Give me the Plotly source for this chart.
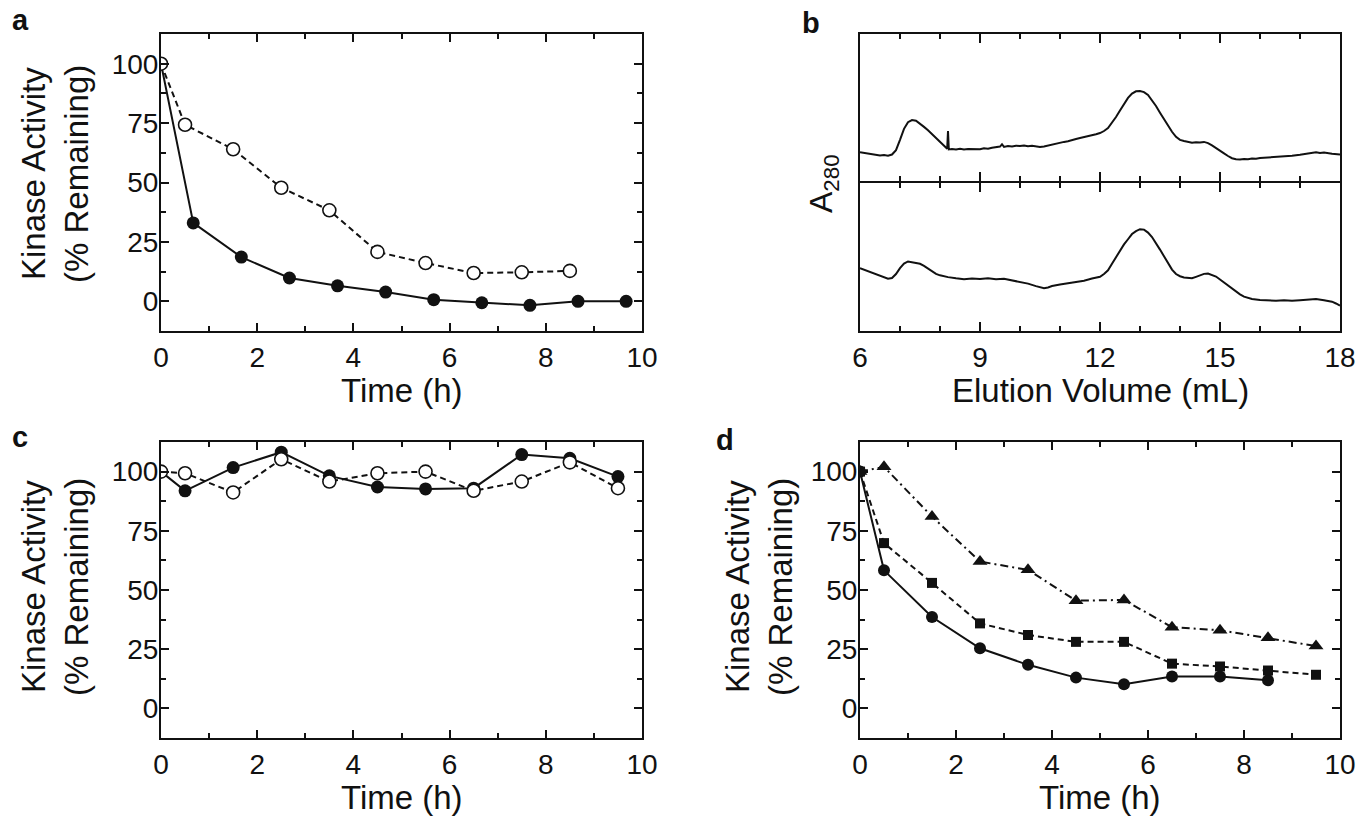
import plotly.graph_objects as go

W, H = 1358, 816
FONT = "Liberation Sans, Arial, Helvetica, sans-serif"
BLACK = "#111111"

# ---------------- data ----------------
# Panel a
a_time_filled = [0, 0.67, 1.67, 2.67, 3.67, 4.67, 5.67, 6.67, 7.67, 8.67, 9.67]
a_act_filled = [100, 33.0, 18.6, 9.8, 6.5, 3.9, 0.7, -0.6, -1.7, 0.0, 0.0]
a_time_open = [0, 0.5, 1.5, 2.5, 3.5, 4.5, 5.5, 6.5, 7.5, 8.5]
a_act_open = [100, 74.3, 64.0, 47.8, 38.3, 20.8, 16.1, 11.9, 12.2, 12.8]

# Panel b (A280 traces, arbitrary units)
b_vol_top = [6.0, 6.1, 6.2, 6.3, 6.4, 6.5, 6.6, 6.7, 6.8, 6.9, 7.0, 7.1, 7.2, 7.3, 7.4,
             7.5, 7.6, 7.7, 7.8, 7.9, 8.0, 8.1, 8.18, 8.2, 8.22, 8.3, 8.4, 8.5, 8.6,
             8.7, 8.8, 8.9, 9.0, 9.1, 9.2, 9.3, 9.4, 9.5, 9.55, 9.6, 9.7, 9.8, 9.9,
             10.0, 10.1, 10.2, 10.3, 10.4, 10.5, 10.6, 10.7, 10.8, 10.9, 11.0, 11.1,
             11.2, 11.3, 11.4, 11.5, 11.6, 11.7, 11.8, 11.9, 12.0, 12.1, 12.2, 12.3,
             12.4, 12.5, 12.6, 12.7, 12.8, 12.9, 13.0, 13.1, 13.2, 13.3, 13.4, 13.5,
             13.6, 13.7, 13.8, 13.9, 14.0, 14.1, 14.2, 14.3, 14.4, 14.5, 14.6, 14.7,
             14.8, 14.9, 15.0, 15.1, 15.2, 15.3, 15.4, 15.5, 15.6, 15.7, 15.8, 15.9,
             16.0, 16.2, 16.4, 16.6, 16.8, 17.0, 17.2, 17.4, 17.5, 17.6, 17.8, 18.0]
b_abs_top = [19.5, 19.0, 18.6, 18.1, 17.8, 17.3, 17.6, 17.2, 18.0, 21.0, 28.0, 35.5, 40.0,
             41.5, 41.0, 39.2, 36.8, 34.5, 32.0, 29.5, 27.0, 24.0, 22.0, 34.0, 21.5,
             21.8, 21.5, 21.9, 21.4, 21.7, 21.6, 21.8, 21.6, 22.2, 22.0, 22.6, 22.8,
             23.4, 25.0, 23.2, 23.8, 23.5, 24.0, 23.8, 24.2, 23.6, 23.9, 23.4, 23.2,
             23.5, 24.2, 24.8, 25.4, 26.0, 26.6, 27.0, 28.0, 28.6, 29.2, 29.8, 30.6,
             30.8, 31.8, 32.6, 34.0, 36.0, 39.5, 43.5, 48.0, 52.5, 56.5, 59.5, 61.0,
             61.2, 60.5, 58.5, 55.0, 51.0, 46.5, 42.0, 38.0, 33.5, 30.0, 28.0, 27.2,
             26.5, 26.0, 26.4, 26.2, 26.6, 25.8, 24.2, 22.2, 20.5, 18.8, 17.0, 15.5,
             14.8, 14.6, 15.0, 14.8, 15.3, 15.1, 15.6, 15.9, 16.3, 16.8, 17.2, 17.8,
             18.5, 19.6, 19.0, 19.4, 18.6, 18.0]
b_vol_bottom = [6.0, 6.1, 6.2, 6.3, 6.4, 6.5, 6.6, 6.7, 6.8, 6.9, 7.0, 7.1, 7.2, 7.3,
                7.4, 7.5, 7.6, 7.7, 7.8, 7.9, 8.0, 8.1, 8.2, 8.4, 8.6, 8.8, 9.0, 9.2,
                9.4, 9.6, 9.8, 10.0, 10.2, 10.4, 10.6, 10.7, 10.8, 11.0, 11.2, 11.4,
                11.6, 11.8, 12.0, 12.1, 12.2, 12.3, 12.4, 12.5, 12.6, 12.7, 12.8, 12.9,
                13.0, 13.1, 13.2, 13.3, 13.4, 13.5, 13.6, 13.7, 13.8, 13.9, 14.0, 14.1,
                14.2, 14.3, 14.4, 14.5, 14.6, 14.7, 14.8, 14.9, 15.0, 15.1, 15.2, 15.3,
                15.4, 15.5, 15.6, 15.7, 15.8, 16.0, 16.2, 16.4, 16.6, 16.8, 17.0, 17.2,
                17.4, 17.6, 17.8, 17.9, 18.0]
b_abs_bottom = [42.5, 41.5, 40.5, 39.2, 38.5, 37.0, 36.0, 35.3, 35.8, 38.5, 42.5, 45.5,
                47.0, 46.5, 46.2, 45.4, 44.0, 42.0, 40.2, 38.6, 37.6, 36.8, 36.4, 35.6,
                35.0, 35.4, 35.2, 35.6, 35.0, 35.3, 34.2, 33.3, 32.0, 30.3, 28.9, 29.4,
                30.4, 31.4, 32.2, 33.0, 34.0, 35.5, 36.6, 38.5, 41.0, 45.5, 50.0, 54.5,
                58.5, 62.0, 65.5, 67.5, 68.8, 68.5, 66.5, 63.5, 59.5, 55.0, 50.5, 46.0,
                41.5, 38.5, 37.0, 36.2, 35.8, 35.6, 36.6, 37.8, 38.6, 38.8, 38.0, 36.8,
                34.8, 32.8, 30.5, 28.3, 26.6, 24.8, 23.2, 22.2, 21.6, 21.0, 20.6, 20.4,
                20.7, 20.4, 20.8, 21.2, 21.6, 20.8, 19.8, 18.6, 17.2]

# Panel c
c_time = [0, 0.5, 1.5, 2.5, 3.5, 4.5, 5.5, 6.5, 7.5, 8.5, 9.5]
c_act_filled = [100, 91.9, 101.7, 108.2, 98.2, 93.5, 92.7, 93.0, 107.2, 105.6, 97.9]
c_act_open = [100, 99.3, 91.2, 105.2, 95.8, 99.3, 100.0, 91.9, 95.8, 103.9, 93.0]

# Panel d
d_time_circle = [0, 0.5, 1.5, 2.5, 3.5, 4.5, 5.5, 6.5, 7.5, 8.5]
d_act_circle = [100, 58.3, 38.6, 25.4, 18.4, 13.0, 10.2, 13.5, 13.5, 11.9]
d_time = [0, 0.5, 1.5, 2.5, 3.5, 4.5, 5.5, 6.5, 7.5, 8.5, 9.5]
d_act_square = [100, 69.8, 53.0, 35.9, 31.0, 28.1, 28.1, 18.9, 17.7, 16.0, 14.2]
d_act_triangle = [100, 102.0, 81.0, 62.0, 58.5, 45.5, 45.8, 34.3, 33.0, 29.8, 26.3]

x_ticks_time = [0, 2, 4, 6, 8, 10]
y_ticks_activity = [0, 25, 50, 75, 100]
x_ticks_volume = [6, 9, 12, 15, 18]


# ---------------- helpers ----------------
def px_x(x):
    return x / W


def px_y(y):
    return 1 - y / H


def axis(domain, rng, tickvals, minor_dtick, labels=True, ticklen=8, minorlen=5,
         anchor=None, ticks="inside", line=True, standoff=0):
    d = dict(
        domain=domain, range=rng, showgrid=False, zeroline=False, automargin=False,
        showline=line, linecolor=BLACK, linewidth=2, mirror="ticks" if ticks else True,
        ticks=ticks, ticklen=ticklen, tickwidth=2, tickcolor=BLACK,
        tickmode="array", tickvals=tickvals, showticklabels=labels,
        tickfont=dict(family=FONT, size=28, color=BLACK),
        ticklabelstandoff=standoff,
        fixedrange=True,
    )
    if ticks:
        d["minor"] = dict(ticks="inside", ticklen=minorlen, tickwidth=2,
                          tickcolor=BLACK, dtick=minor_dtick, tick0=0, showgrid=False)
    if anchor:
        d["anchor"] = anchor
    return d


fig = go.Figure()

filled = dict(symbol="circle", size=13, color=BLACK)
open_m = dict(symbol="circle", size=13, color="white", line=dict(color=BLACK, width=1.6))

# Panel a
fig.add_trace(go.Scatter(x=a_time_filled, y=a_act_filled, mode="lines+markers",
                         line=dict(color=BLACK, width=2), marker=filled,
                         xaxis="x", yaxis="y"))
fig.add_trace(go.Scatter(x=a_time_open, y=a_act_open, mode="lines+markers",
                         line=dict(color=BLACK, width=2, dash="6px,4px"), marker=open_m,
                         xaxis="x", yaxis="y"))

# Panel b
fig.add_trace(go.Scatter(x=b_vol_top, y=b_abs_top, mode="lines",
                         line=dict(color=BLACK, width=2), xaxis="x2", yaxis="y2"))
fig.add_trace(go.Scatter(x=b_vol_bottom, y=b_abs_bottom, mode="lines",
                         line=dict(color=BLACK, width=2), xaxis="x3", yaxis="y3"))

# Panel c
fig.add_trace(go.Scatter(x=c_time, y=c_act_filled, mode="lines+markers",
                         line=dict(color=BLACK, width=2), marker=filled,
                         xaxis="x4", yaxis="y4"))
fig.add_trace(go.Scatter(x=c_time, y=c_act_open, mode="lines+markers",
                         line=dict(color=BLACK, width=2, dash="6px,4px"), marker=open_m,
                         xaxis="x4", yaxis="y4"))

# Panel d
fig.add_trace(go.Scatter(x=d_time_circle, y=d_act_circle, mode="lines+markers",
                         line=dict(color=BLACK, width=2),
                         marker=dict(symbol="circle", size=12, color=BLACK),
                         xaxis="x5", yaxis="y5"))
fig.add_trace(go.Scatter(x=d_time, y=d_act_triangle, mode="lines+markers",
                         line=dict(color=BLACK, width=2, dash="8px,4px,2px,4px"),
                         marker=dict(symbol="triangle-up", size=13, color=BLACK),
                         xaxis="x5", yaxis="y5"))
fig.add_trace(go.Scatter(x=d_time, y=d_act_square, mode="lines+markers",
                         line=dict(color=BLACK, width=2, dash="6px,4px"),
                         marker=dict(symbol="square", size=10, color=BLACK),
                         xaxis="x5", yaxis="y5"))

# domains (pixel positions converted to paper)
ax_a = [px_x(161), px_x(642)]
ax_b = [px_x(860), px_x(1340)]
row1 = [px_y(331), px_y(34)]
b_top = [px_y(181), px_y(34)]
b_bot = [px_y(331), px_y(183)]
row2 = [px_y(738), px_y(442)]

yr = [-12.5, 112.5]
xr = [0, 10]

fig.update_layout(
    width=W, height=H, margin=dict(l=0, r=0, t=0, b=0, autoexpand=False),
    paper_bgcolor="white", plot_bgcolor="white", showlegend=False,
    font=dict(family=FONT, color=BLACK),
    xaxis=axis(ax_a, xr, x_ticks_time, 1, anchor="y"),
    yaxis=axis(row1, yr, y_ticks_activity, 12.5, anchor="x", standoff=-5),
    xaxis2=axis(ax_b, [6, 18], x_ticks_volume, 1, labels=False, ticklen=9, anchor="y2"),
    yaxis2=axis(b_top, [0, 100], [], 100, labels=False, ticks="", anchor="x2"),
    xaxis3=axis(ax_b, [6, 18], x_ticks_volume, 1, ticklen=9, anchor="y3"),
    yaxis3=axis(b_bot, [0, 100], [], 100, labels=False, ticks="", anchor="x3"),
    xaxis4=axis(ax_a, xr, x_ticks_time, 1, anchor="y4"),
    yaxis4=axis(row2, yr, y_ticks_activity, 12.5, anchor="x4", standoff=-5),
    xaxis5=axis(ax_b, xr, x_ticks_time, 1, anchor="y5"),
    yaxis5=axis(row2, yr, y_ticks_activity, 12.5, anchor="x5", standoff=-5),
)


def ann(text, x, y, size=33, angle=0, bold=False, xanchor="center"):
    fig.add_annotation(
        text=f"<b>{text}</b>" if bold else text, x=px_x(x), y=px_y(y),
        xref="paper", yref="paper", showarrow=False, textangle=angle,
        xanchor=xanchor, yanchor="middle",
        font=dict(family=FONT, size=size, color=BLACK),
    )


# panel letters
ann("a", 10, 20, size=29, bold=True, xanchor="left")
ann("b", 800, 23, size=29, bold=True, xanchor="left")
ann("c", 10, 437, size=29, bold=True, xanchor="left")
ann("d", 714, 440, size=29, bold=True, xanchor="left")

# y titles
ann("Kinase Activity", 33, 174, angle=-90)
ann("(% Remaining)", 76, 174, angle=-90)
ann("Kinase Activity", 33, 587, angle=-90)
ann("(% Remaining)", 76, 587, angle=-90)
ann("Kinase Activity", 737, 587, angle=-90)
ann("(% Remaining)", 780, 587, angle=-90)
ann("A<sub>280</sub>", 824, 183, size=32, angle=-90)

# x titles
ann("Time (h)", 402, 390)
ann("Elution Volume (mL)", 1100, 390)
ann("Time (h)", 402, 797)
ann("Time (h)", 1100, 797)

fig.write_html(
    "out.html",
    config={"displayModeBar": False},
    post_script="document.body.style.margin='0';document.body.style.overflow='hidden';",
)
